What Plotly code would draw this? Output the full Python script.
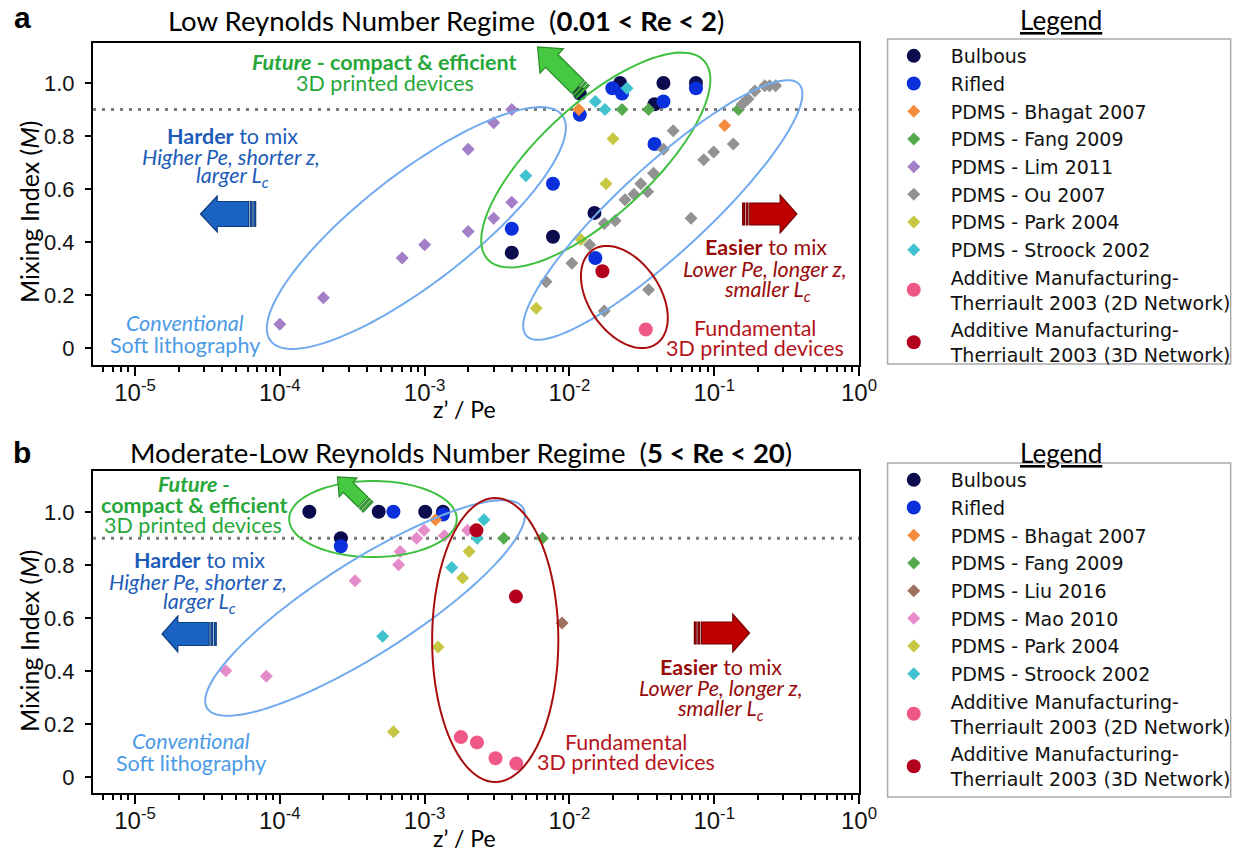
import numpy as np
import plotly.graph_objects as go

# ---------------- data: z'/Pe (x) and mixing index M (y) ----------------
# Panel a : low Reynolds number regime (0.01 < Re < 2)
A_BULBOUS_Z = [0.0118, 0.0224, 0.0446, 0.0748, 0.0387, 0.0149, 0.0077, 0.0040]
A_BULBOUS_M = [0.96, 1.00, 1.00, 1.00, 0.92, 0.51, 0.42, 0.36]
A_RIFLED_Z = [0.0118, 0.0198, 0.0231, 0.0446, 0.0748, 0.0387, 0.0077, 0.0040, 0.0151]
A_RIFLED_M = [0.88, 0.98, 0.96, 0.93, 0.98, 0.77, 0.62, 0.45, 0.34]
A_BHAGAT_Z = [0.0116, 0.118]
A_BHAGAT_M = [0.90, 0.84]
A_FANG_Z = [0.0231, 0.0352, 0.147]
A_FANG_M = [0.90, 0.90, 0.90]
A_LIM_Z = [0.0001, 0.0002, 0.0007, 0.001, 0.002, 0.002, 0.003, 0.004, 0.003, 0.004]
A_LIM_M = [0.09, 0.19, 0.34, 0.39, 0.44, 0.75, 0.85, 0.90, 0.49, 0.55]
A_OU_Z = [0.2415, 0.2655, 0.2235, 0.191, 0.171, 0.156, 0.0521, 0.0446, 0.1355, 0.0991,
          0.0847, 0.0381, 0.0311, 0.0347, 0.0279, 0.0242, 0.0692, 0.0207, 0.0174, 0.0138,
          0.0104, 0.0069, 0.0352, 0.0174]
A_OU_M = [0.99, 0.99, 0.99, 0.97, 0.94, 0.92, 0.82, 0.75, 0.77, 0.74,
          0.71, 0.66, 0.62, 0.59, 0.58, 0.56, 0.49, 0.48, 0.47, 0.39,
          0.32, 0.25, 0.22, 0.14]
A_PARK_Z = [0.0200, 0.0179, 0.0120, 0.0059]
A_PARK_M = [0.79, 0.62, 0.41, 0.15]
A_STROOCK_Z = [0.0050, 0.0151, 0.0176, 0.0250]
A_STROOCK_M = [0.65, 0.93, 0.90, 0.98]
A_THER2D_Z = [0.0337]
A_THER2D_M = [0.07]
A_THER3D_Z = [0.0169]
A_THER3D_M = [0.29]

# Panel b : moderate-low Reynolds number regime (5 < Re < 20)
B_BULBOUS_Z = [0.00016, 0.000264, 0.000482, 0.00101, 0.00134]
B_BULBOUS_M = [1.00, 0.90, 1.00, 1.00, 1.00]
B_RIFLED_Z = [0.000264, 0.000609, 0.00134]
B_RIFLED_M = [0.87, 1.00, 0.99]
B_BHAGAT_Z = [0.00119]
B_BHAGAT_M = [0.97]
B_FANG_Z = [0.00352, 0.00652]
B_FANG_M = [0.90, 0.90]
B_LIU_Z = [0.0089]
B_LIU_M = [0.58]
B_MAO_Z = [0.0000424, 0.0000807, 0.000331, 0.000661, 0.000678, 0.000881, 0.000992, 0.00137, 0.00198]
B_MAO_M = [0.40, 0.38, 0.74, 0.80, 0.85, 0.90, 0.93, 0.91, 0.93]
B_PARK_Z = [0.000609, 0.00124, 0.00183, 0.00203]
B_PARK_M = [0.17, 0.49, 0.75, 0.85]
B_STROOCK_Z = [0.000513, 0.00154, 0.00231, 0.00257]
B_STROOCK_M = [0.53, 0.79, 0.90, 0.97]
B_THER2D_Z = [0.00178, 0.00230, 0.00309, 0.00430]
B_THER2D_M = [0.15, 0.13, 0.07, 0.05]
B_THER3D_Z = [0.00228, 0.00427]
B_THER3D_M = [0.93, 0.68]

THRESHOLD_M = 0.9
X_TICK_VALS = [1e-5, 1e-4, 1e-3, 1e-2, 1e-1, 1]
X_TICK_TEXT = ["10<sup>-5</sup>", "10<sup>-4</sup>", "10<sup>-3</sup>",
               "10<sup>-2</sup>", "10<sup>-1</sup>", "10<sup>0</sup>"]
Y_TICK_VALS = [0, 0.2, 0.4, 0.6, 0.8, 1.0]
Y_TICK_TEXT = ["0", "0.2", "0.4", "0.6", "0.8", "1.0"]

# ---------------- styling ----------------
CAL = "Lato"
ARIAL = "Liberation Sans"
LEGF = "DejaVu Sans"

COL = {
    "Bulbous": "#0b0b4d",
    "Rifled": "#0a30dc",
    "Bhagat": "#f78b3d",
    "Fang": "#55a94f",
    "Lim": "#a27fc6",
    "Ou": "#929292",
    "Park": "#c8c744",
    "Stroock": "#40c3cf",
    "Liu": "#a0705f",
    "Mao": "#e68bca",
    "Ther2D": "#ef5884",
    "Ther3D": "#b3001c",
}

W, H = 1249, 859
L, R, T, B = 93, 870, 43, 793          # plot area in pixels
A_BOTTOM, B_TOP = 365, 471             # inner edges of the two panels


def paper(px, py):
    return (px - L) / (R - L), (B - py) / (B - T)


def path_from(points):
    pts = [paper(x, y) for x, y in points]
    return "M " + " L ".join(f"{x:.5f},{y:.5f}" for x, y in pts) + " Z"


def ellipse_path(cx, cy, a, b, ang_deg, n=120):
    t = np.linspace(0, 2 * np.pi, n, endpoint=False)
    th = np.radians(ang_deg)
    ex = cx + a * np.cos(t) * np.cos(th) - b * np.sin(t) * np.sin(th)
    ey = cy - (a * np.cos(t) * np.sin(th) + b * np.sin(t) * np.cos(th))
    return path_from(list(zip(ex, ey)))


def arrow_paths(tail, tip, shaft_hw, head_hw, head_len):
    tx, ty = tail
    dx, dy = tip[0] - tx, tip[1] - ty
    length = float(np.hypot(dx, dy))
    ux, uy = dx / length, dy / length
    nx, ny = -uy, ux

    def P(s, w):
        return (tx + ux * s + nx * w, ty + uy * s + ny * w)

    hb = length - head_len
    body = [P(7.2, -shaft_hw), P(hb, -shaft_hw), P(hb, -head_hw), P(length, 0),
            P(hb, head_hw), P(hb, shaft_hw), P(7.2, shaft_hw)]
    bars = [[P(s0, -shaft_hw), P(s1, -shaft_hw), P(s1, shaft_hw), P(s0, shaft_hw)]
            for s0, s1 in [(0, 1.8), (3.6, 5.4)]]
    return [path_from(body)] + [path_from(b) for b in bars]


fig = go.Figure()


def add_series(xs, ys, name, key, symbol, size, xa, ya, legend):
    fig.add_trace(go.Scatter(
        x=xs, y=ys, mode="markers", name=name, xaxis=xa, yaxis=ya, legend=legend,
        marker=dict(color=COL[key], symbol=symbol, size=size, line=dict(width=0)),
    ))


series_a = [
    (A_BULBOUS_Z, A_BULBOUS_M, "Bulbous", "Bulbous", "circle", 14),
    (A_RIFLED_Z, A_RIFLED_M, "Rifled", "Rifled", "circle", 14),
    (A_BHAGAT_Z, A_BHAGAT_M, "PDMS - Bhagat 2007", "Bhagat", "diamond", 10),
    (A_FANG_Z, A_FANG_M, "PDMS - Fang 2009", "Fang", "diamond", 10),
    (A_LIM_Z, A_LIM_M, "PDMS - Lim 2011", "Lim", "diamond", 10),
    (A_OU_Z, A_OU_M, "PDMS - Ou 2007", "Ou", "diamond", 10),
    (A_PARK_Z, A_PARK_M, "PDMS - Park 2004", "Park", "diamond", 10),
    (A_STROOCK_Z, A_STROOCK_M, "PDMS - Stroock 2002", "Stroock", "diamond", 10),
    (A_THER2D_Z, A_THER2D_M, "Additive Manufacturing-<br>Therriault 2003 (2D Network)", "Ther2D", "circle", 14),
    (A_THER3D_Z, A_THER3D_M, "Additive Manufacturing-<br>Therriault 2003 (3D Network)", "Ther3D", "circle", 14),
]
series_b = [
    (B_BULBOUS_Z, B_BULBOUS_M, "Bulbous", "Bulbous", "circle", 14),
    (B_RIFLED_Z, B_RIFLED_M, "Rifled", "Rifled", "circle", 14),
    (B_BHAGAT_Z, B_BHAGAT_M, "PDMS - Bhagat 2007", "Bhagat", "diamond", 10),
    (B_FANG_Z, B_FANG_M, "PDMS - Fang 2009", "Fang", "diamond", 10),
    (B_LIU_Z, B_LIU_M, "PDMS - Liu 2016", "Liu", "diamond", 10),
    (B_MAO_Z, B_MAO_M, "PDMS - Mao 2010", "Mao", "diamond", 10),
    (B_PARK_Z, B_PARK_M, "PDMS - Park 2004", "Park", "diamond", 10),
    (B_STROOCK_Z, B_STROOCK_M, "PDMS - Stroock 2002", "Stroock", "diamond", 10),
    (B_THER2D_Z, B_THER2D_M, "Additive Manufacturing-<br>Therriault 2003 (2D Network)", "Ther2D", "circle", 14),
    (B_THER3D_Z, B_THER3D_M, "Additive Manufacturing-<br>Therriault 2003 (3D Network)", "Ther3D", "circle", 14),
]
for s in series_a:
    add_series(*s[:2], s[2], s[3], s[4], s[5], "x", "y", "legend")
for s in series_b:
    add_series(*s[:2], s[2], s[3], s[4], s[5], "x2", "y2", "legend2")

# ---------------- axes ----------------
xaxis_style = dict(
    type="log", range=[-5.29, 0], tickmode="array", tickvals=X_TICK_VALS, ticktext=X_TICK_TEXT,
    showline=True, linewidth=2, linecolor="black", mirror=True, showgrid=False, zeroline=False,
    ticks="outside", ticklen=9, tickwidth=2, tickcolor="black", ticklabelstandoff=-4,
    tickfont=dict(family=ARIAL, size=24, color="#111"),
    minor=dict(dtick="D1", ticks="outside", ticklen=5, tickwidth=1.5, tickcolor="black", showgrid=False),
)
yaxis_style = dict(
    tickmode="array", tickvals=Y_TICK_VALS, ticktext=Y_TICK_TEXT,
    showline=True, linewidth=2, linecolor="black", mirror=True, showgrid=False, zeroline=False,
    ticks="outside", ticklen=6, tickwidth=2, tickcolor="black", ticklabelstandoff=6,
    tickfont=dict(family=ARIAL, size=22, color="#111"),
)
ya_dom = [paper(0, A_BOTTOM)[1], 1]
yb_dom = [0, paper(0, B_TOP)[1]]

fig.update_layout(
    width=W, height=H, margin=dict(l=L, r=W - R, t=T, b=H - B),
    paper_bgcolor="white", plot_bgcolor="white",
    xaxis=dict(domain=[0, 1], anchor="y", **xaxis_style),
    yaxis=dict(domain=ya_dom, anchor="x", range=[-0.064, 1.151], **yaxis_style),
    xaxis2=dict(domain=[0, 1], anchor="y2", **xaxis_style),
    yaxis2=dict(domain=yb_dom, anchor="x2", range=[-0.061, 1.154], **yaxis_style),
)

legend_style = dict(
    xanchor="left", yanchor="top", bgcolor="rgba(0,0,0,0)", borderwidth=0,
    font=dict(family=LEGF, size=19, color="#111"), itemwidth=64, tracegroupgap=0,
)
lx, _ = paper(888, 0)
fig.update_layout(
    legend=dict(x=lx, y=paper(0, 37)[1], **legend_style),
    legend2=dict(x=lx, y=paper(0, 461)[1], **legend_style),
)

# ---------------- shapes ----------------
shapes = []
# mixing threshold
for xd, ya in [("x domain", "y"), ("x2 domain", "y2")]:
    shapes.append(dict(type="line", xref=xd, yref=ya, x0=0, x1=1, y0=THRESHOLD_M, y1=THRESHOLD_M,
                       line=dict(color="#7a7a7a", width=3, dash="3px,6px"), layer="below"))

# legend frames
for top, bot in [(39, 364), (463, 797)]:
    x0, y0 = paper(899, top)
    x1, y1 = paper(1247, bot)
    shapes.append(dict(type="rect", xref="paper", yref="paper", x0=x0, x1=x1, y0=y0, y1=y1,
                       line=dict(color="#a9a9a9", width=1.5)))

# grouping ellipses: (cx, cy, a, b, angle, colour)
ELLIPSES = [
    (421, 228, 186, 55, 37.3, "#72aaee"),
    (603, 160, 148, 56, 42.0, "#3fc13f"),
    (671, 210, 187, 44, 42.2, "#72aaee"),
    (632, 297, 57, 36, -55.0, "#a80c0c"),
    (377, 519, 85, 38, 0.0, "#3fc13f"),
    (369, 608, 189, 47, 32.0, "#72aaee"),
    (501, 640, 142, 64, 90.0, "#a80c0c"),
]
for cx, cy, a, b, ang, c in ELLIPSES:
    shapes.append(dict(type="path", xref="paper", yref="paper", path=ellipse_path(cx, cy, a, b, ang),
                       line=dict(color=c, width=2), fillcolor="rgba(0,0,0,0)"))

# direction arrows: (tail, tip, shaft half-width, head half-width, head length, fill, edge)
ARROWS = [
    ((590, 92), (544, 47), 9, 17, 20, "#46c840", "#2b8a2b"),
    ((258, 214), (202, 214), 12.5, 18, 17, "#1a63c3", "#0e3d7e"),
    ((752, 214), (807, 214), 11, 19, 17, "#c00000", "#720000"),
    ((372, 507), (341, 477), 7, 13, 15, "#46c840", "#2b8a2b"),
    ((218, 634), (163, 634), 11.5, 18, 16, "#1a63c3", "#0e3d7e"),
    ((703, 633), (759, 633), 11, 19, 17, "#c00000", "#720000"),
]
for tail, tip, shw, hhw, hl, fc, ec in ARROWS:
    for p in arrow_paths(tail, tip, shw, hhw, hl):
        shapes.append(dict(type="path", xref="paper", yref="paper", path=p,
                           fillcolor=fc, line=dict(color=ec, width=1.2)))
fig.update_layout(shapes=shapes)

# ---------------- text ----------------
GREEN = "#27a63a"
BLUE_T = "#1d5cb8"
LBLUE_T = "#4c9ae6"
DRED = "#980b0b"
RED_T = "#b5141c"
TS = 21.5

TEXTS = [
    # panel a
    ("<b><i>Future</i> - compact &amp; efficient</b>", 389, 62, GREEN),
    ("3D printed devices", 389, 83, GREEN),
    ("<b>Harder</b> to mix", 234, 136, BLUE_T),
    ("<i>Higher Pe, shorter z,</i>", 233, 157, BLUE_T),
    ("<i>larger L<sub>c</sub></i>", 234, 177, BLUE_T),
    ("<i>Conventional</i>", 186, 323, LBLUE_T),
    ("Soft lithography", 186, 345, LBLUE_T),
    ("<b>Easier</b> to mix", 776, 247, DRED),
    ("<i>Lower Pe, longer z,</i>", 775, 269, DRED),
    ("<i>smaller L<sub>c</sub></i>", 777, 290, DRED),
    ("Fundamental", 764, 328, RED_T),
    ("3D printed devices", 765, 348, RED_T),
    # panel b
    ("<b><i>Future -</i></b>", 195, 484, GREEN),
    ("<b>compact &amp; efficient</b>", 196, 505, GREEN),
    ("3D printed devices", 194, 525, GREEN),
    ("<b>Harder</b> to mix", 201, 560, BLUE_T),
    ("<i>Higher Pe, shorter z,</i>", 200, 582, BLUE_T),
    ("<i>larger L<sub>c</sub></i>", 201, 602, BLUE_T),
    ("<i>Conventional</i>", 192, 741, LBLUE_T),
    ("Soft lithography", 192, 763, LBLUE_T),
    ("<b>Easier</b> to mix", 730, 667, DRED),
    ("<i>Lower Pe, longer z,</i>", 730, 688, DRED),
    ("<i>smaller L<sub>c</sub></i>", 730, 709, DRED),
    ("Fundamental", 634, 742, RED_T),
    ("3D printed devices", 634, 762, RED_T),
]
annotations = []
for txt, cx, cy, c in TEXTS:
    x, y = paper(cx, cy)
    annotations.append(dict(text=txt, x=x, y=y, xref="paper", yref="paper", showarrow=False,
                            xanchor="center", yanchor="middle", font=dict(family=CAL, size=TS, color=c)))

HEADERS = [
    ("Low Reynolds Number Regime  (<b>0.01 &lt; Re &lt; 2</b>)", 451, 20),
    ("Moderate-Low Reynolds Number Regime  (<b>5 &lt; Re &lt; 20</b>)", 466, 452),
]
for txt, cx, cy in HEADERS:
    x, y = paper(cx, cy)
    annotations.append(dict(text=txt, x=x, y=y, xref="paper", yref="paper", showarrow=False,
                            xanchor="center", yanchor="middle", font=dict(family=CAL, size=27.5, color="black")))

for letter, cy in [("a", 18), ("b", 452)]:
    x, y = paper(21, cy)
    annotations.append(dict(text=f"<b>{letter}</b>", x=x, y=y, xref="paper", yref="paper", showarrow=False,
                            xanchor="center", yanchor="middle", font=dict(family=ARIAL, size=30, color="black")))

for cy in [20, 453]:
    x, y = paper(1075, cy)
    annotations.append(dict(text="<u>Legend</u>", x=x, y=y, xref="paper", yref="paper", showarrow=False,
                            xanchor="center", yanchor="middle", font=dict(family=CAL, size=26, color="black")))

for cy in [409, 838]:
    x, y = paper(470, cy)
    annotations.append(dict(text="z’ / Pe", x=x, y=y, xref="paper", yref="paper", showarrow=False,
                            xanchor="center", yanchor="middle", font=dict(family=CAL, size=23, color="black")))

for cy in [212, 641]:
    x, y = paper(28, cy)
    annotations.append(dict(text="Mixing Index (<i>M</i>)", x=x, y=y, xref="paper", yref="paper",
                            showarrow=False, textangle=-90, xanchor="center", yanchor="middle",
                            font=dict(family=CAL, size=25, color="black")))

fig.update_layout(annotations=annotations)

fig.write_html("out.html")
